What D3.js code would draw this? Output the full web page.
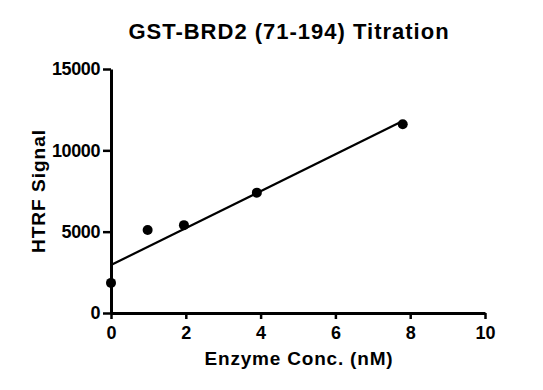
<!DOCTYPE html>
<html>
<head>
<meta charset="utf-8">
<script src="https://cdn.jsdelivr.net/npm/d3@7"></script>
<style>
  body { margin: 0; background: #fff; }
  svg text { font-family: "Liberation Sans", Arial, sans-serif; font-weight: bold; fill: #000; }
</style>
</head>
<body>
<div id="chart"></div>
<script>
// Enzyme titration data
const conc = [0, 0.98, 1.95, 3.9, 7.8];
const signal = [1850, 5100, 5400, 7400, 11600];
const xTicks = [0, 2, 4, 6, 8, 10];
const yTicks = [0, 5000, 10000, 15000];

const width = 543, height = 390;
const margin = { top: 69, right: 58, bottom: 77, left: 111 };

const svg = d3.select("#chart").append("svg")
    .attr("width", width)
    .attr("height", height);

const x = d3.scaleLinear().domain([0, 10]).range([margin.left, width - margin.right]);
const y = d3.scaleLinear().domain([0, 15000]).range([height - margin.bottom, margin.top]);

// Linear regression fit
const mx = d3.mean(conc), my = d3.mean(signal);
const sxy = d3.sum(conc, (c, i) => (c - mx) * (signal[i] - my));
const sxx = d3.sum(conc, c => (c - mx) * (c - mx));
const slope = sxy / sxx;
const intercept = my - slope * mx;

// Axes
const xAxis = svg.append("g")
    .attr("transform", `translate(0,${y(0)})`)
    .call(d3.axisBottom(x).tickValues(xTicks).tickFormat(d3.format("d"))
        .tickSize(6).tickPadding(7).tickSizeOuter(0));
const yAxis = svg.append("g")
    .attr("transform", `translate(${x(0)},0)`)
    .call(d3.axisLeft(y).tickValues(yTicks).tickFormat(d3.format("d"))
        .tickSize(8).tickPadding(3).tickSizeOuter(0));

[xAxis, yAxis].forEach(g => {
    g.select(".domain").attr("stroke", "#000").attr("stroke-width", 3);
    g.selectAll(".tick line").attr("stroke", "#000").attr("stroke-width", 2.5);
    g.selectAll(".tick text")
        .style("font-size", "18px")
        .style("font-family", "Liberation Sans, Arial, sans-serif")
        .style("font-weight", "bold");
});
yAxis.selectAll(".tick text").style("letter-spacing", "-0.4px");

// Fit line
svg.append("line")
    .attr("x1", x(0)).attr("y1", y(intercept))
    .attr("x2", x(d3.max(conc))).attr("y2", y(intercept + slope * d3.max(conc)))
    .attr("stroke", "#000")
    .attr("stroke-width", 2.2);

// Points
svg.selectAll(".dot")
    .data(conc.map((c, i) => ({ c, s: signal[i] })))
    .join("circle")
    .attr("class", "dot")
    .attr("cx", d => x(d.c))
    .attr("cy", d => y(d.s))
    .attr("r", 5)
    .attr("fill", "#000");

// Titles
svg.append("text")
    .attr("x", 289).attr("y", 39)
    .attr("text-anchor", "middle")
    .style("font-size", "22px")
    .style("letter-spacing", "1px")
    .text("GST-BRD2 (71-194) Titration");

svg.append("text")
    .attr("x", 299).attr("y", 365)
    .attr("text-anchor", "middle")
    .style("font-size", "19px")
    .style("letter-spacing", "0.8px")
    .text("Enzyme Conc. (nM)");

svg.append("text")
    .attr("transform", `translate(45,191) rotate(-90)`)
    .attr("text-anchor", "middle")
    .style("font-size", "19px")
    .style("letter-spacing", "1px")
    .text("HTRF Signal");
</script>
</body>
</html>
